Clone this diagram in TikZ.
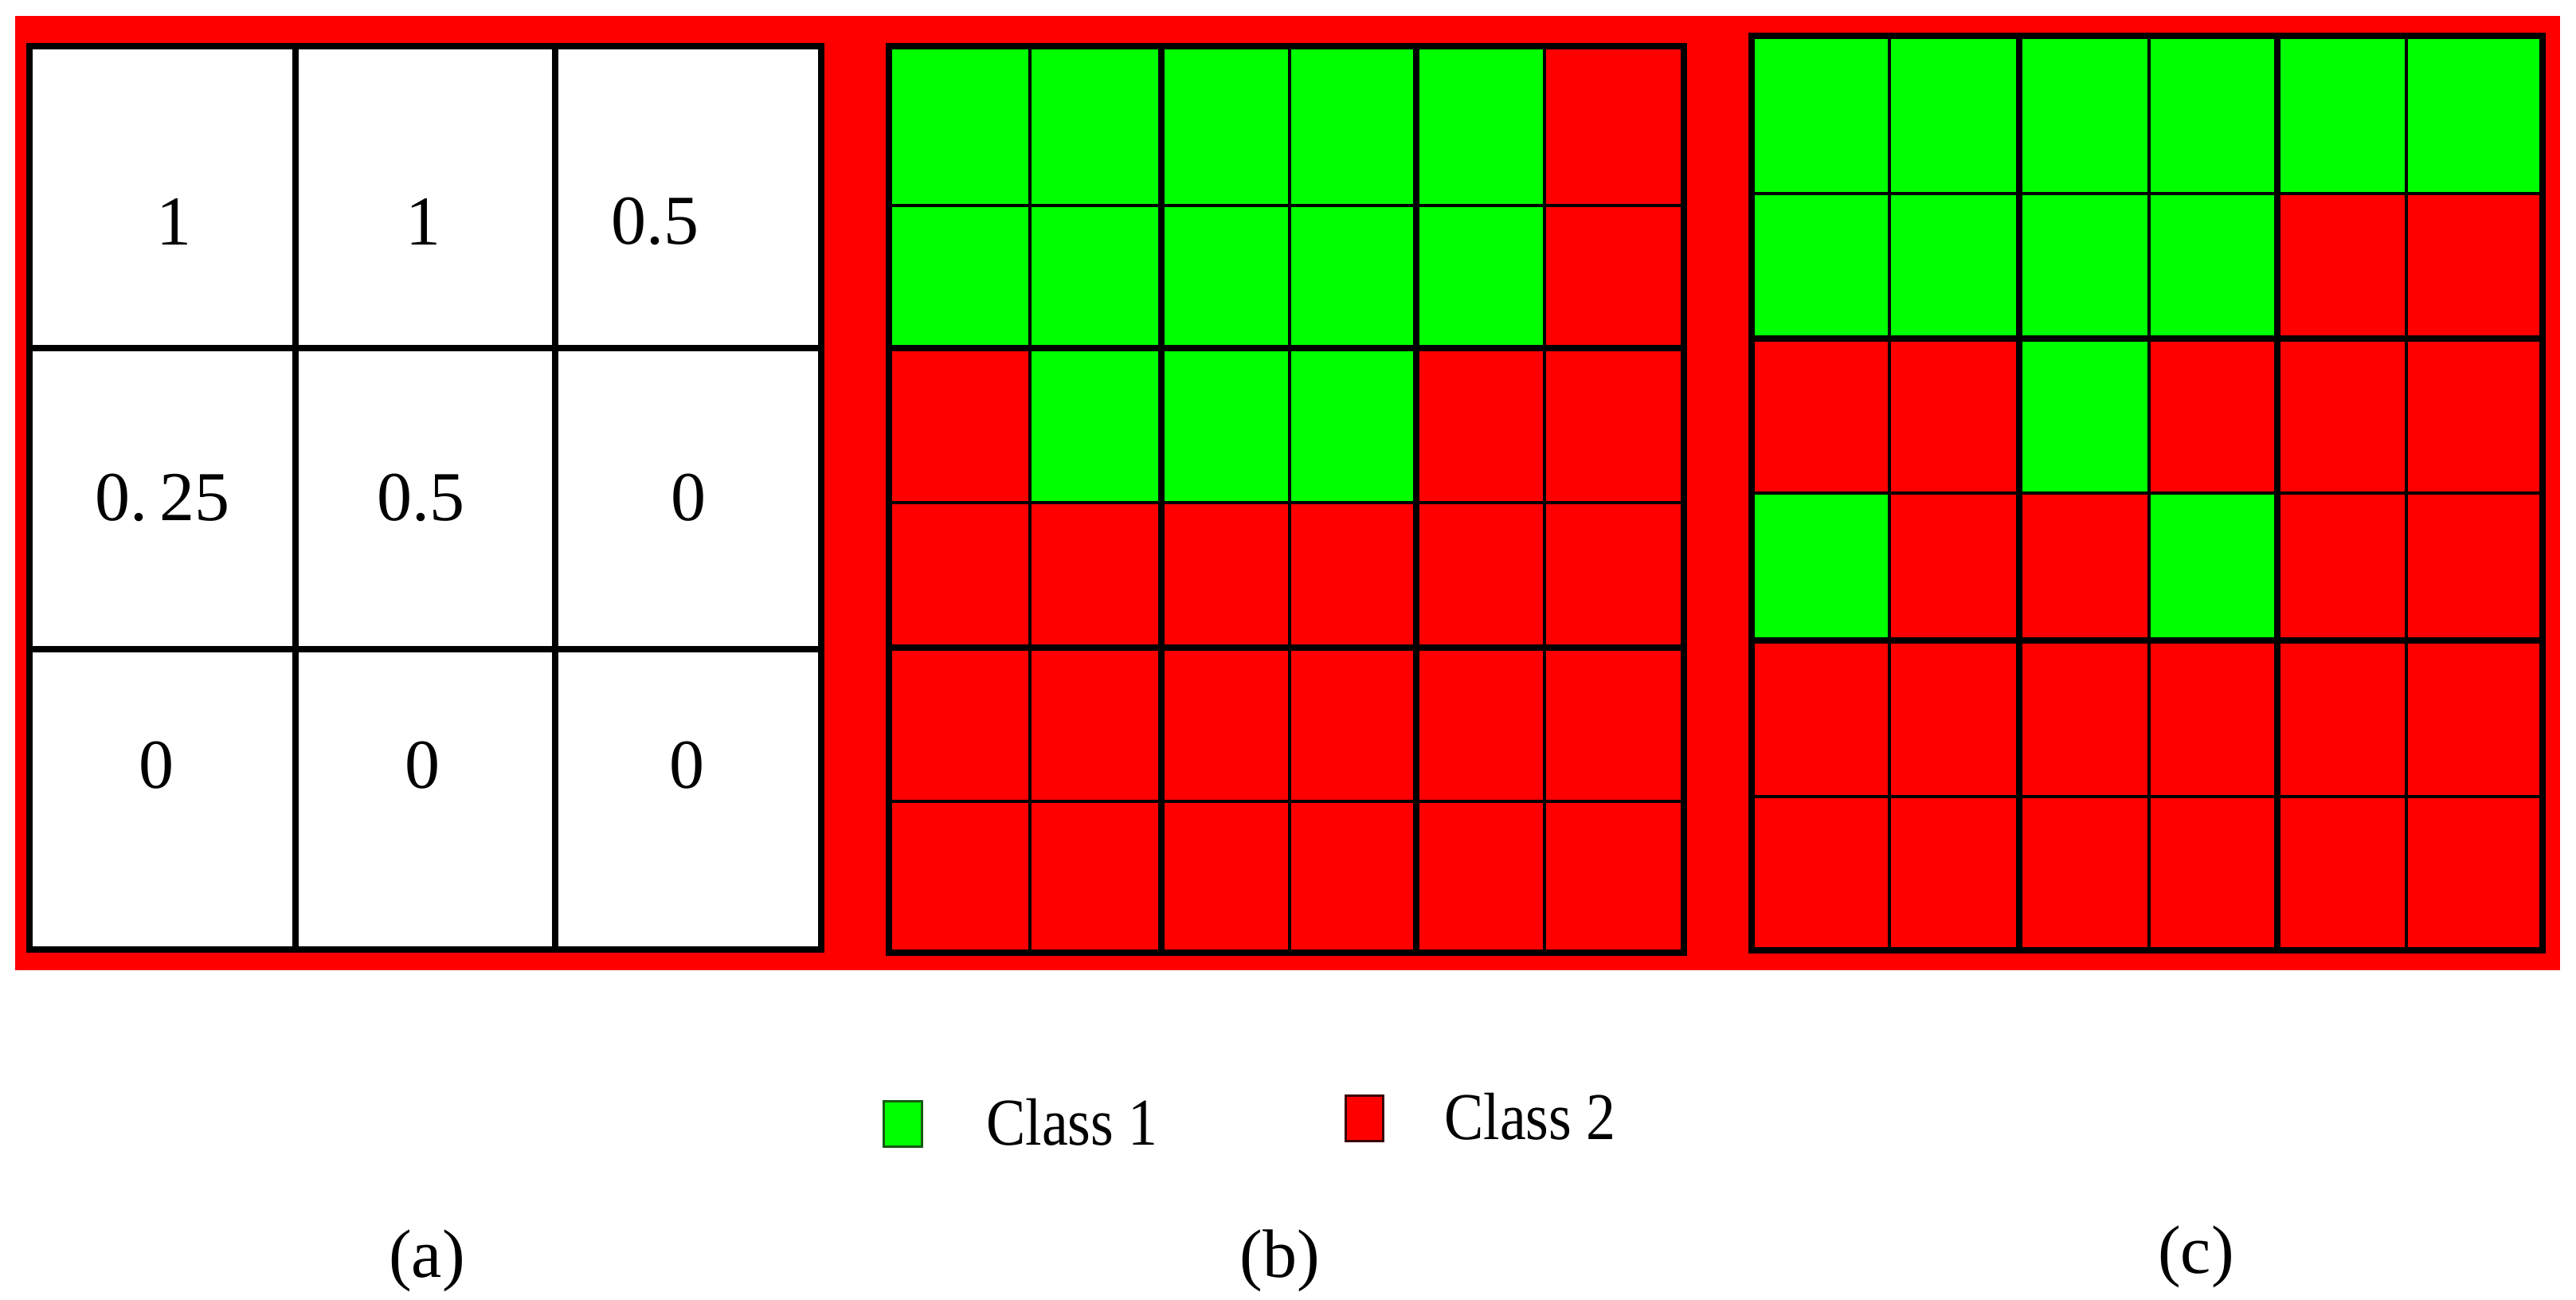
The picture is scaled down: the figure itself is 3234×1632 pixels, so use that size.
\documentclass[tikz,border=0pt]{standalone}
\usepackage{fontspec}
\setmainfont{Liberation Serif}
\definecolor{cgreen}{RGB}{0,255,0}
\definecolor{cred}{RGB}{255,0,0}
\definecolor{dkgreen}{RGB}{20,90,20}
\definecolor{dkred}{RGB}{60,0,0}
\begin{document}
\begin{tikzpicture}[x=1pt,y=-1pt,
  thickln/.style={line width=8pt, draw=black},
  thinln/.style={line width=3.5pt, draw=black},
  numtxt/.style={font=\fontsize{88}{100}\selectfont, inner sep=0pt},
  captxt/.style={font=\fontsize{86}{100}\selectfont, anchor=base, inner sep=0pt},
  legtxt/.style={font=\fontsize{84}{100}\selectfont, anchor=base west, inner sep=0pt, xscale=0.88},
  legbox/.style={line width=3pt}
]
\useasboundingbox (0,0) rectangle (3234,1632);
\fill[white] (0,0) rectangle (3234,1632);
\fill[cred] (19,20) rectangle (3214,1218);

% ---------- grid (a)
\fill[white] (37,58) rectangle (1031,1192);
\foreach \x in {371,697} \draw[thickln] (\x,58) -- (\x,1192);
\foreach \y in {437,815} \draw[thickln] (37,\y) -- (1031,\y);
\draw[thickln] (37,58) rectangle (1031,1192);

\node[numtxt] (a11) at (218,278) {1};
\node[numtxt] (a12) at (531,278) {1};
\node[numtxt] (a13) at (822,278) {0.5};
\node[numtxt] (a21) at (204,625) {0.\,25};
\node[numtxt] (a22) at (528,625) {0.5};
\node[numtxt] (a23) at (864,625) {0};
\node[numtxt] (a31) at (196,961) {0};
\node[numtxt] (a32) at (530,961) {0};
\node[numtxt] (a33) at (862,961) {0};

% ---------- grid (b)
\fill[cred] (1116,58) rectangle (2114,1196);
\fill[cgreen] (1116,58) rectangle (1939,437);
\fill[cgreen] (1293,437) rectangle (1778,631);
\foreach \x in {1293,1619,1939} \draw[thinln] (\x,58) -- (\x,1196);
\foreach \y in {258,631,1006} \draw[thinln] (1116,\y) -- (2114,\y);
\foreach \x in {1458,1778} \draw[thickln] (\x,58) -- (\x,1196);
\foreach \y in {437,813} \draw[thickln] (1116,\y) -- (2114,\y);
\draw[thickln] (1116,58) rectangle (2114,1196);

% ---------- grid (c)
\fill[cred] (2199,45) rectangle (3192,1193);
\fill[cgreen] (2199,45) rectangle (3192,243);
\fill[cgreen] (2199,243) rectangle (2859,425);
\fill[cgreen] (2535,425) rectangle (2698,619);
\fill[cgreen] (2199,619) rectangle (2372,804);
\fill[cgreen] (2698,619) rectangle (2859,804);
\foreach \x in {2372,2698,3021} \draw[thinln] (\x,45) -- (\x,1193);
\foreach \y in {243,619,1000} \draw[thinln] (2199,\y) -- (3192,\y);
\foreach \x in {2535,2859} \draw[thickln] (\x,45) -- (\x,1193);
\foreach \y in {425,804} \draw[thickln] (2199,\y) -- (3192,\y);
\draw[thickln] (2199,45) rectangle (3192,1193);

% ---------- legend
\draw[legbox, draw=dkgreen, fill=cgreen] (1109,1382) rectangle (1157,1439);
\node[legtxt] (c1) at (1238,1437) {Class 1};
\draw[legbox, draw=dkred, fill=cred] (1689,1375) rectangle (1736,1432);
\node[legtxt] (c2) at (1813,1430) {Class 2};

% ---------- captions
\node[captxt] (la) at (536,1603) {(a)};
\node[captxt] (lb) at (1607,1603) {(b)};
\node[captxt] (lc) at (2757,1598) {(c)};
\end{tikzpicture}
\end{document}
